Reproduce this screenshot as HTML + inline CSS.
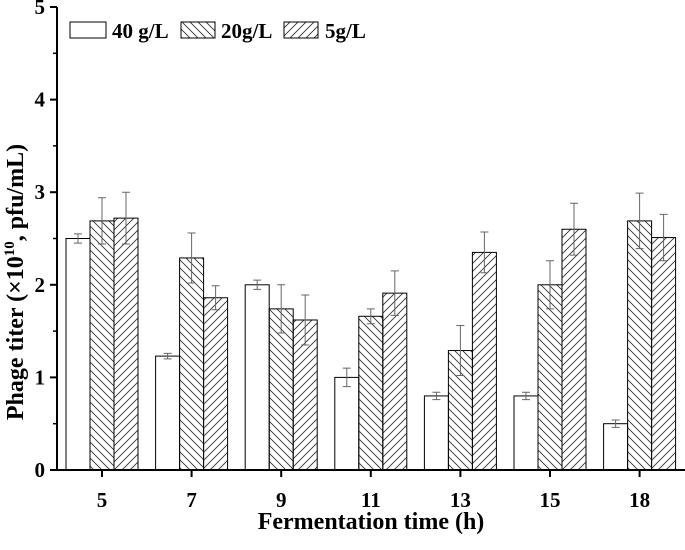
<!DOCTYPE html>
<html><head><meta charset="utf-8"><style>
body{margin:0;background:#fff}
svg text{font-family:"Liberation Serif",serif;font-weight:bold;fill:#000}
</style></head><body>
<svg id="chart" width="685" height="545" viewBox="0 0 685 545" xmlns="http://www.w3.org/2000/svg">
<defs>
<pattern id="hatchBack" patternUnits="userSpaceOnUse" width="8" height="8">
<path d="M-2,-2 L10,10 M-2,6 L2,10 M6,-2 L10,2" stroke="#333" stroke-width="0.9"/>
</pattern>
<pattern id="hatchFwd" patternUnits="userSpaceOnUse" width="8" height="8">
<path d="M-2,10 L10,-2 M-2,2 L2,-2 M6,10 L10,6" stroke="#333" stroke-width="0.9"/>
</pattern>
</defs>
<g id="plot"></g>
<text x="23" y="282" font-size="24" text-anchor="middle" transform="rotate(-90 23 282)">Phage titer (×10<tspan dy="-9" font-size="15">10</tspan><tspan dy="9">, pfu/mL)</tspan></text>
<text x="371" y="529" font-size="24" text-anchor="middle">Fermentation time (h)</text>
<g>
<rect x="70" y="22" width="36" height="16" fill="#fff" stroke="#000" stroke-width="1"/>
<text x="112" y="38" font-size="21">40 g/L</text>
<rect x="181" y="22" width="34" height="16" fill="url(#hatchBack)" stroke="#000" stroke-width="1"/>
<text x="221" y="38" font-size="21">20g/L</text>
<rect x="284" y="22" width="34" height="16" fill="url(#hatchFwd)" stroke="#000" stroke-width="1"/>
<text x="325" y="38" font-size="21">5g/L</text>
</g>
</svg>
<script>
const categories = ["5","7","9","11","13","15","18"];
const seriesNames = ["40 g/L","20g/L","5g/L"];
const values40 = [2.5,1.23,2.0,1.0,0.8,0.8,0.5];
const values20 = [2.69,2.29,1.74,1.66,1.29,2.0,2.69];
const values5 = [2.72,1.86,1.62,1.91,2.35,2.6,2.51];
const err40 = [0.05,0.03,0.05,0.1,0.04,0.04,0.04];
const err20 = [0.25,0.27,0.26,0.08,0.27,0.26,0.3];
const err5 = [0.28,0.13,0.27,0.24,0.22,0.28,0.25];
const yTicks = [0,1,2,3,4,5];

const NS="http://www.w3.org/2000/svg";
const g=document.getElementById('plot');
const x0=57, y0=470, unit=92.6, cat0=102, catStep=89.6, barW=24;
const yScale=v=>y0-v*unit;
const xCat=i=>cat0+i*catStep;
function mk(t,a){const e=document.createElementNS(NS,t);for(const k in a)e.setAttribute(k,a[k]);g.appendChild(e);return e;}
const series=[[values40,err40,"#fff","40gl"],[values20,err20,"url(#hatchBack)","20gl"],[values5,err5,"url(#hatchFwd)","5gl"]];
series.forEach((s,si)=>{
  s[0].forEach((v,i)=>{
    const bx=xCat(i)-1.5*barW+si*barW;
    const r=mk('rect',{x:bx,y:yScale(v),width:barW,height:v*unit,fill:s[2],stroke:'#000','stroke-width':1});
    
    
    const cx=bx+barW/2, t=yScale(v+s[1][i]), b=yScale(v-s[1][i]);
    const e=mk('path',{d:`M${cx},${t}V${b}M${cx-4},${t}H${cx+4}M${cx-4},${b}H${cx+4}`,stroke:'#666','stroke-width':1,fill:'none'});
    
    
  });
});
const ya=mk('line',{x1:x0,y1:y0+1,x2:x0,y2:yScale(5),stroke:'#000','stroke-width':2});


const xa=mk('line',{x1:x0-1,y1:y0,x2:685,y2:y0,stroke:'#000','stroke-width':2});


yTicks.forEach(t=>{
  const y=yScale(t);
  mk('line',{x1:x0-7,y1:y,x2:x0,y2:y,stroke:'#000','stroke-width':2});
  if(t<5) mk('line',{x1:x0-4,y1:yScale(t+0.5),x2:x0,y2:yScale(t+0.5),stroke:'#000','stroke-width':1.5});
  const tx=mk('text',{x:x0-12,y:y+7,'font-size':21,'text-anchor':'end'});
  tx.textContent=t;
  
  
});
categories.forEach((c,i)=>{
  const x=xCat(i);
  mk('line',{x1:x,y1:y0,x2:x,y2:y0+7,stroke:'#000','stroke-width':2});
  const tx=mk('text',{x:x,y:y0+37,'font-size':21,'text-anchor':'middle'});
  tx.textContent=c;
  
  
});
</script>
</body></html>
